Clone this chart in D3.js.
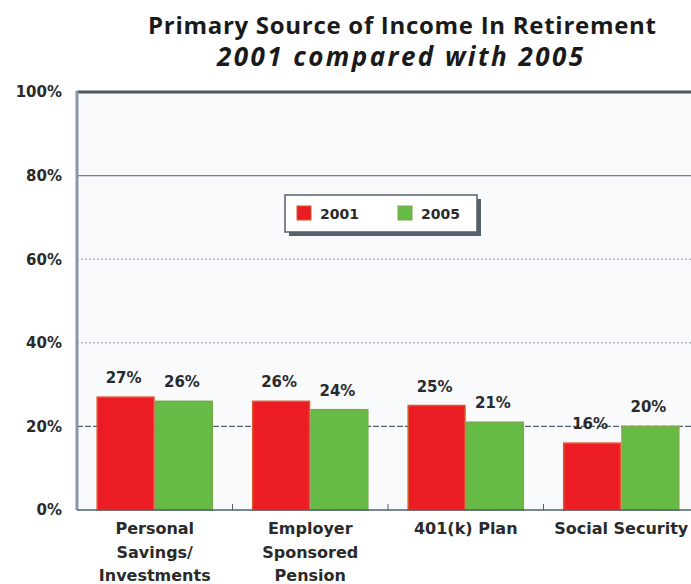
<!DOCTYPE html>
<html>
<head>
<meta charset="utf-8">
<script src="https://cdn.jsdelivr.net/npm/d3@7"></script>
<style>
  html, body { margin: 0; padding: 0; background: #ffffff; }
  svg { display: block; }
</style>
</head>
<body>
<svg id="chart" width="691" height="584"></svg>
<script>
// Income sources and survey shares (percent)
const categories = ["Personal Savings/ Investments", "Employer Sponsored Pension", "401(k) Plan", "Social Security"];
const categoryLines = [["Personal", "Savings/", "Investments"], ["Employer", "Sponsored", "Pension"], ["401(k) Plan"], ["Social Security"]];
const seriesNames = ["2001", "2005"];
const values2001 = [27, 26, 25, 16];
const values2005 = [26, 24, 21, 20];
const yTicks = [0, 20, 40, 60, 80, 100];

const fills = { "2001": "#ec1c24", "2005": "#66bb46" };
const strokes = { "2001": "#d9582c", "2005": "#7aa848" };

const svg = d3.select("#chart");
const plot = { left: 77, top: 92, right: 699, bottom: 510 };
const chartFont = "'DejaVu Sans', Verdana, sans-serif";
const titleFont = "'Open Sans', 'Noto Sans', sans-serif";

// Titles
svg.append("text")
  .attr("x", 402).attr("y", 34)
  .attr("text-anchor", "middle")
  .attr("font-family", titleFont)
  .attr("font-weight", "bold").attr("font-size", 24)
  .attr("textLength", 508).attr("lengthAdjust", "spacing")
  .attr("fill", "#1a1a1a")
  .text("Primary Source of Income In Retirement");
svg.append("text")
  .attr("x", 400).attr("y", 66)
  .attr("text-anchor", "middle")
  .attr("font-family", titleFont)
  .attr("font-weight", "bold").attr("font-style", "italic").attr("font-size", 26)
  .attr("textLength", 366).attr("lengthAdjust", "spacing")
  .attr("fill", "#1a1a1a")
  .text("2001 compared with 2005");

// Scales
const x0 = d3.scaleBand().domain(categories).range([plot.left, plot.right]).paddingInner(0.25).paddingOuter(0.125);
const x1 = d3.scaleBand().domain(seriesNames).range([0, x0.bandwidth()]).padding(0);
const y = d3.scaleLinear().domain([0, 100]).range([plot.bottom, plot.top]);

// Plot background
svg.append("rect")
  .attr("x", plot.left).attr("y", plot.top)
  .attr("width", plot.right - plot.left).attr("height", plot.bottom - plot.top)
  .attr("fill", "#f8fafc");

// Gridlines
const gridStyle = {
  20: { stroke: "#4e6070", dash: "6,2", width: 1.2 },
  40: { stroke: "#8a9aa8", dash: "2,2", width: 1 },
  60: { stroke: "#8a9aa8", dash: "2,2", width: 1 },
  80: { stroke: "#6f8090", dash: null, width: 1.2 },
  100: { stroke: "#4a5a66", dash: null, width: 3 }
};
yTicks.filter(t => t > 0).forEach(t => {
  const s = gridStyle[t];
  svg.append("line")
    .attr("x1", plot.left).attr("x2", plot.right)
    .attr("y1", y(t)).attr("y2", y(t))
    .attr("stroke", s.stroke).attr("stroke-width", s.width)
    .attr("stroke-dasharray", s.dash);
});

// Y axis
const yAxis = d3.axisLeft(y).tickValues(yTicks).tickFormat(d => d + "%").tickSize(0).tickPadding(15);
const yg = svg.append("g").attr("transform", `translate(${plot.left},0)`).call(yAxis);
yg.select(".domain").remove();
yg.selectAll("text")
  .attr("font-family", chartFont)
  .attr("font-weight", "bold").attr("font-size", 15).attr("fill", "#2a2a2a");
svg.append("line")
  .attr("x1", plot.left).attr("x2", plot.left)
  .attr("y1", plot.top - 1).attr("y2", plot.bottom)
  .attr("stroke", "#8797a6").attr("stroke-width", 3);

// Bars
const data = categories.map((c, i) => ({ cat: c, vals: [{ s: "2001", v: values2001[i] }, { s: "2005", v: values2005[i] }] }));
const groups = svg.selectAll("g.grp").data(data).join("g")
  .attr("class", "grp")
  .attr("transform", d => `translate(${x0(d.cat)},0)`);
groups.selectAll("rect").data(d => d.vals).join("rect")
  .attr("x", d => x1(d.s) + 0.75)
  .attr("y", d => y(d.v))
  .attr("width", x1.bandwidth() - 1.5)
  .attr("height", d => y(0) - y(d.v))
  .attr("fill", d => fills[d.s])
  .attr("stroke", d => strokes[d.s])
  .attr("stroke-width", 1.5);
groups.selectAll("text.val").data(d => d.vals).join("text")
  .attr("class", "val")
  .attr("x", d => x1(d.s) + x1.bandwidth() / 2 - 2)
  .attr("y", d => y(d.v) - 14)
  .attr("text-anchor", "middle")
  .attr("font-family", chartFont)
  .attr("font-weight", "bold").attr("font-size", 15)
  .attr("fill", "#2a2a2a")
  .text(d => d.v + "%");

// X baseline and ticks between groups
svg.append("line")
  .attr("x1", plot.left).attr("x2", plot.right)
  .attr("y1", plot.bottom).attr("y2", plot.bottom)
  .attr("stroke", "#4e6070").attr("stroke-width", 1.5);
categories.slice(1).forEach(c => {
  const xt = x0(c) - x0.step() * x0.paddingInner() / 2;
  svg.append("line")
    .attr("x1", xt).attr("x2", xt)
    .attr("y1", plot.bottom - 6).attr("y2", plot.bottom)
    .attr("stroke", "#4e6070").attr("stroke-width", 1);
});

// Category labels
categories.forEach((c, i) => {
  const cx = x0(c) + x0.bandwidth() / 2;
  const t = svg.append("text")
    .attr("x", cx)
    .attr("y", 534)
    .attr("text-anchor", "middle")
    .attr("font-family", chartFont)
    .attr("font-weight", "bold").attr("font-size", 16)
    .attr("fill", "#2a2a2a");
  categoryLines[i].forEach((line, j) => {
    t.append("tspan").attr("x", cx).attr("dy", j === 0 ? 0 : 23.5).text(line);
  });
});

// Legend
const lg = svg.append("g").attr("transform", "translate(285,195)");
lg.append("rect").attr("x", 4).attr("y", 4).attr("width", 192).attr("height", 37).attr("fill", "#55606a");
lg.append("rect").attr("x", 0).attr("y", 0).attr("width", 192).attr("height", 37)
  .attr("fill", "#ffffff").attr("stroke", "#555f68").attr("stroke-width", 1.5);
seriesNames.forEach((s, i) => {
  const gx = 12 + i * 101;
  lg.append("rect").attr("x", gx).attr("y", 11).attr("width", 14).attr("height", 14)
    .attr("fill", fills[s]).attr("stroke", strokes[s]);
  lg.append("text").attr("x", gx + 23).attr("y", 24)
    .attr("font-family", chartFont)
    .attr("font-weight", "bold").attr("font-size", 14).attr("fill", "#2a2a2a")
    .text(s);
});
</script>
</body>
</html>
